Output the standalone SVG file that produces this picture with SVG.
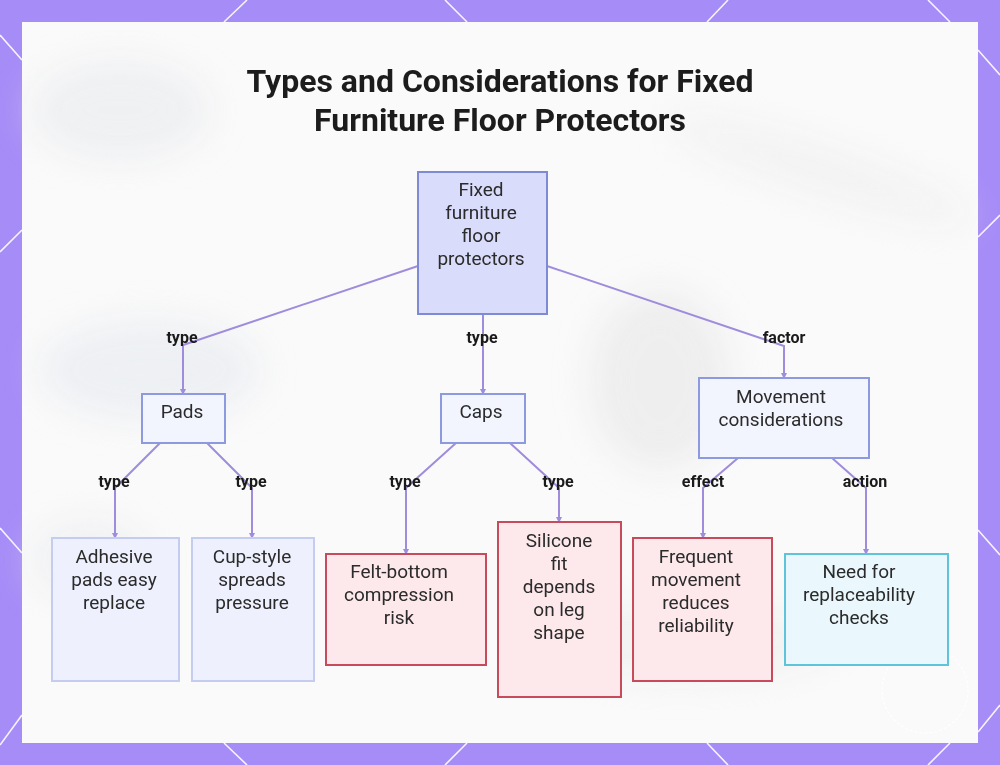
<svg xmlns="http://www.w3.org/2000/svg" width="1000" height="765" viewBox="0 0 1000 765">
  <defs>
    <style>
      .bgline { stroke: #ffffff; stroke-width: 1.6; fill: none; opacity: 0.9; }
      .title { font-family: Roboto, "Liberation Sans", sans-serif; font-weight: 700; font-size: 32px; fill: #1c1c1c; text-anchor: middle; }
      .nt { font-family: Roboto, "Liberation Sans", sans-serif; font-size: 19px; fill: #2b2b2b; text-anchor: middle; }
      .lbl { font-family: Roboto, "Liberation Sans", sans-serif; font-weight: 700; font-size: 16px; fill: #1a1a1a; text-anchor: middle; }
      .edge { stroke: #a08cdc; stroke-width: 2; fill: none; marker-end: url(#arr); }
      .root { fill: #d9dcfa; stroke: #7e8ad4; stroke-width: 2; }
      .mid { fill: #f3f5fe; stroke: #8d9ae0; stroke-width: 2; }
      .leafb { fill: #eef1fd; stroke: #c4ccef; stroke-width: 2; }
      .leafr { fill: #fde9ec; stroke: #c84b5b; stroke-width: 2; }
      .leafc { fill: #eaf8fd; stroke: #5fc4da; stroke-width: 2; }
    </style>
    <marker id="arr" viewBox="0 0 6 6" refX="5" refY="3" markerWidth="3" markerHeight="3" orient="auto">
      <path d="M0,0 L6,3 L0,6 z" fill="#a08cdc"/>
    </marker>
    <filter id="blur" x="-50%" y="-50%" width="200%" height="200%">
      <feGaussianBlur stdDeviation="18"/>
    </filter>
  </defs>

  <!-- background -->
  <rect x="0" y="0" width="1000" height="765" fill="#a68cf7"/>
  <g class="bgline">
    <line x1="224" y1="22" x2="247" y2="0"/>
    <line x1="445" y1="0" x2="467" y2="22"/>
    <line x1="728" y1="0" x2="707" y2="22"/>
    <line x1="928" y1="0" x2="950" y2="22"/>
    <line x1="224" y1="743" x2="247" y2="765"/>
    <line x1="467" y1="743" x2="445" y2="765"/>
    <line x1="707" y1="743" x2="728" y2="765"/>
    <line x1="950" y1="743" x2="928" y2="765"/>
    <line x1="0" y1="35" x2="22" y2="60"/>
    <line x1="0" y1="252" x2="22" y2="230"/>
    <line x1="0" y1="528" x2="22" y2="553"/>
    <line x1="0" y1="745" x2="22" y2="715"/>
    <line x1="978" y1="50" x2="1000" y2="75"/>
    <line x1="978" y1="237" x2="1000" y2="215"/>
    <line x1="978" y1="530" x2="1000" y2="555"/>
    <line x1="978" y1="732" x2="1000" y2="705"/>
  </g>
  <rect x="22" y="22" width="956" height="721" fill="#fafafa"/>
  <g filter="url(#blur)" opacity="0.55">
    <ellipse cx="120" cy="110" rx="90" ry="50" fill="#e6e8ec"/>
    <ellipse cx="150" cy="370" rx="110" ry="50" fill="#e3e7ee"/>
    <ellipse cx="660" cy="380" rx="70" ry="90" fill="#e4e4e4"/>
    <ellipse cx="680" cy="640" rx="160" ry="40" fill="#ececec"/>
    <ellipse cx="820" cy="170" rx="160" ry="25" fill="#ededed" transform="rotate(18 820 170)"/>
    <ellipse cx="90" cy="560" rx="60" ry="40" fill="#e8eaee"/>
  </g>
  <circle cx="925" cy="690" r="43" fill="none" stroke="#ffffff" stroke-width="1.2" stroke-dasharray="3 2" opacity="0.9"/>

  <!-- title -->
  <g id="title">
    <text class="title" x="500" y="92">Types and Considerations for Fixed</text>
    <text class="title" x="500" y="131">Furniture Floor Protectors</text>
  </g>

  <!-- connectors -->
  <g id="connectors">
    <path class="edge" d="M418,266 L183,345 L183,394"/>
    <path class="edge" d="M483,314 L483,394"/>
    <path class="edge" d="M547,266 L784,346 L784,378"/>
    <path class="edge" d="M160,443 L115,488 L115,538"/>
    <path class="edge" d="M207,443 L252,488 L252,538"/>
    <path class="edge" d="M456,443 L406,488 L406,554"/>
    <path class="edge" d="M510,443 L559,488 L559,522"/>
    <path class="edge" d="M738,458 L703,488 L703,538"/>
    <path class="edge" d="M832,458 L866,488 L866,554"/>
    <text class="lbl" x="182" y="343">type</text>
    <text class="lbl" x="482" y="343">type</text>
    <text class="lbl" x="784" y="343">factor</text>
    <text class="lbl" x="114" y="487">type</text>
    <text class="lbl" x="251" y="487">type</text>
    <text class="lbl" x="405" y="487">type</text>
    <text class="lbl" x="558" y="487">type</text>
    <text class="lbl" x="703" y="487">effect</text>
    <text class="lbl" x="865" y="487">action</text>
  </g>

  <!-- nodes -->
  <g id="root">
    <rect class="root" x="418" y="172" width="129" height="142"/>
    <text class="nt" x="481" y="196">Fixed</text>
    <text class="nt" x="481" y="219">furniture</text>
    <text class="nt" x="481" y="242">floor</text>
    <text class="nt" x="481" y="265">protectors</text>
  </g>
  <g id="pads">
    <rect class="mid" x="142" y="394" width="83" height="49"/>
    <text class="nt" x="182" y="418">Pads</text>
  </g>
  <g id="caps">
    <rect class="mid" x="441" y="394" width="84" height="49"/>
    <text class="nt" x="481" y="418">Caps</text>
  </g>
  <g id="movement">
    <rect class="mid" x="699" y="378" width="170" height="80"/>
    <text class="nt" x="781" y="403">Movement</text>
    <text class="nt" x="781" y="426">considerations</text>
  </g>
  <g id="adhesive">
    <rect class="leafb" x="52" y="538" width="127" height="143"/>
    <text class="nt" x="114" y="563">Adhesive</text>
    <text class="nt" x="114" y="586">pads easy</text>
    <text class="nt" x="114" y="609">replace</text>
  </g>
  <g id="cupstyle">
    <rect class="leafb" x="192" y="538" width="122" height="143"/>
    <text class="nt" x="252" y="563">Cup-style</text>
    <text class="nt" x="252" y="586">spreads</text>
    <text class="nt" x="252" y="609">pressure</text>
  </g>
  <g id="felt">
    <rect class="leafr" x="326" y="554" width="160" height="111"/>
    <text class="nt" x="399" y="578">Felt-bottom</text>
    <text class="nt" x="399" y="601">compression</text>
    <text class="nt" x="399" y="624">risk</text>
  </g>
  <g id="silicone">
    <rect class="leafr" x="498" y="522" width="123" height="175"/>
    <text class="nt" x="559" y="547">Silicone</text>
    <text class="nt" x="559" y="570">fit</text>
    <text class="nt" x="559" y="593">depends</text>
    <text class="nt" x="559" y="616">on leg</text>
    <text class="nt" x="559" y="639">shape</text>
  </g>
  <g id="frequent">
    <rect class="leafr" x="633" y="538" width="139" height="143"/>
    <text class="nt" x="696" y="563">Frequent</text>
    <text class="nt" x="696" y="586">movement</text>
    <text class="nt" x="696" y="609">reduces</text>
    <text class="nt" x="696" y="632">reliability</text>
  </g>
  <g id="replace">
    <rect class="leafc" x="785" y="554" width="163" height="111"/>
    <text class="nt" x="859" y="578">Need for</text>
    <text class="nt" x="859" y="601">replaceability</text>
    <text class="nt" x="859" y="624">checks</text>
  </g>
</svg>
